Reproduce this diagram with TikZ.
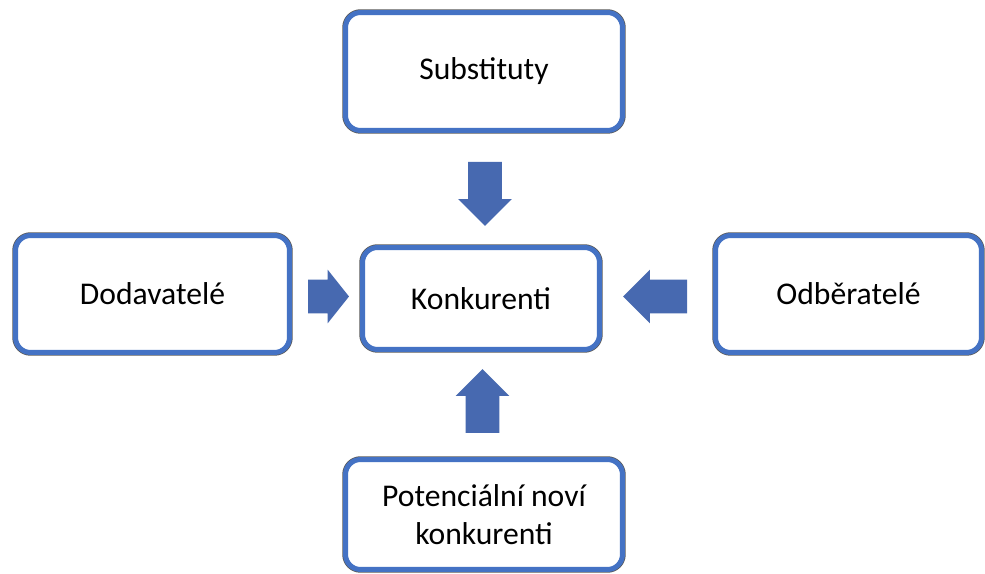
\documentclass[tikz,border=0pt]{standalone}
\usepackage{fontspec}
\setmainfont{Carlito}
\usetikzlibrary{shapes.arrows}
\definecolor{boxblue}{RGB}{68,114,196}
\definecolor{arrblue}{RGB}{71,105,176}
\begin{document}
\begin{tikzpicture}[x=0.02cm,y=-0.02cm,
 force/.style={draw=boxblue,line width=0.1cm,rounded corners=0.3cm,fill=white,
  preaction={draw=black!65,line width=0.13cm},font=\fontsize{18}{21.6}\selectfont,align=center},
 push/.style={single arrow,fill=arrblue,inner xsep=0pt,inner ysep=0.33cm,anchor=tail,
  single arrow head extend=0.2cm,minimum height=1.28cm,outer sep=0pt}]
 \useasboundingbox (0,0) rectangle (985,574);
 \node[force,minimum width=5.54cm,minimum height=2.36cm](sub) at (484,71.5){Substituty};
 \node[force,minimum width=4.74cm,minimum height=2.04cm](konk) at (481,298.5){Konkurenti};
 \node[force,minimum width=5.48cm,minimum height=2.34cm](dod) at (152.5,294){Dodavatelé};
 \node[force,minimum width=5.32cm,minimum height=2.34cm](odb) at (848.5,294){Odběratelé};
 \node[force,minimum width=5.54cm,minimum height=2.20cm](pot) at (484,514.5){Potenciální noví\\konkurenti};
 \node[push,rotate=-90](fsub) at (485,162){};
 \node[push,rotate=180](fodb) at (687,296.5){};
 \node[push,rotate=90](fpot) at (482.5,433){};
 \node[push,minimum height=0.82cm,single arrow tip angle=103](fdod) at (308,296.5){};
\end{tikzpicture}
\end{document}
